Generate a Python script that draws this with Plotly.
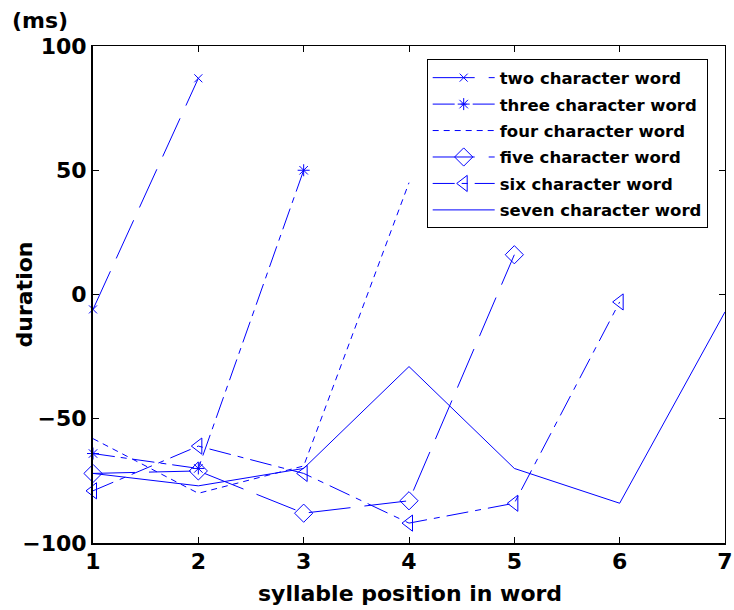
import plotly.graph_objects as go

x_two = [1, 2]
two = [-6, 87]
x_three = [1, 2, 3]
three = [-64, -70, 50]
x_four = [1, 2, 3, 4]
four = [-58, -80, -69, 45]
x_five = [1, 2, 3, 4, 5]
five = [-72, -71, -88, -83, 16]
x_six = [1, 2, 3, 4, 5, 6]
six = [-79, -61, -72, -92, -84, -3]
x_seven = [1, 2, 3, 4, 5, 6, 7]
seven = [-72, -77, -70, -29, -70, -84, -7]

names = ["two character word", "three character word", "four character word",
         "five character word", "six character word", "seven character word"]
x_ticks = [1, 2, 3, 4, 5, 6, 7]
y_ticks = [-100, -50, 0, 50, 100]

BLUE = "#0000ff"
FONT = "DejaVu Sans, Liberation Sans, sans-serif"

series = [
    (x_two, two, "lines+markers", "x-thin-open", 8, "42px,14px"),
    (x_three, three, "lines+markers", "asterisk-open", 10, "22px,6px,6px,6px"),
    (x_four, four, "lines", None, 0, "6px,5px"),
    (x_five, five, "lines+markers", "diamond-open", 14, "42px,14px"),
    (x_six, six, "lines+markers", "triangle-left-open", 14, "22px,7px,6px,7px"),
    (x_seven, seven, "lines", None, 0, "solid"),
]

fig = go.Figure()
for i, ((xs, ys, mode, sym, size, dash), name) in enumerate(zip(series, names)):
    marker = dict(color=BLUE, line=dict(color=BLUE, width=1))
    if sym:
        marker.update(symbol=sym, size=size)
    fig.add_trace(go.Scatter(
        x=xs, y=ys, mode=mode, name=name, legendgroup=f"g{i}",
        line=dict(color=BLUE, width=1, dash=dash),
        marker=marker, cliponaxis=False,
    ))

# invisible trace to hold the thin top/right frame axes
fig.add_trace(go.Scatter(x=[None], y=[None], xaxis="x2", yaxis="y2",
                         showlegend=False, hoverinfo="skip"))

axis_common = dict(showgrid=False, zeroline=False, ticks="inside", ticklen=6,
                   tickcolor="black", linecolor="black", automargin=False)
tickfont = dict(family=FONT, size=22, weight="bold", color="black")

fig.update_layout(
    width=734, height=610,
    margin=dict(l=93, r=9, t=46, b=67),
    paper_bgcolor="white", plot_bgcolor="white",
    font=dict(family=FONT, size=22, color="black", weight="bold"),
    xaxis=dict(range=[1, 7], tickvals=x_ticks, showline=True, linewidth=2,
               ticklabelstandoff=-2, tickfont=tickfont, **axis_common),
    yaxis=dict(range=[-100, 100], tickvals=y_ticks, showline=True, linewidth=2,
               ticklabelstandoff=0, tickfont=tickfont, **axis_common),
    xaxis2=dict(range=[1, 7], tickvals=x_ticks, overlaying="x",
                side="top", showline=True, linewidth=1, showticklabels=False,
                anchor="y", **axis_common),
    yaxis2=dict(range=[-100, 100], tickvals=y_ticks, overlaying="y",
                side="right", showline=True, linewidth=1, showticklabels=False,
                anchor="x", **axis_common),
    legend=dict(x=0.528, y=0.973, xanchor="left", yanchor="top",
                bgcolor="white", bordercolor="black", borderwidth=1,
                itemwidth=62, tracegroupgap=2,
                font=dict(family=FONT, size=16.5, color="black", weight="bold")),
    annotations=[
        dict(text="(ms)", xref="paper", yref="paper", x=-0.084, y=1.052,
             xanchor="center", yanchor="middle", showarrow=False,
             font=dict(family=FONT, size=22, weight="bold")),
        dict(text="duration", xref="paper", yref="paper", x=-0.1076, y=0.5,
             xanchor="center", yanchor="middle", textangle=-90, showarrow=False,
             font=dict(family=FONT, size=22, weight="bold")),
        dict(text="syllable position in word", xref="paper", yref="paper",
             x=0.5016, y=-0.1007, xanchor="center", yanchor="middle",
             showarrow=False, font=dict(family=FONT, size=22, weight="bold")),
    ],
)

fig.write_html("out.html")
